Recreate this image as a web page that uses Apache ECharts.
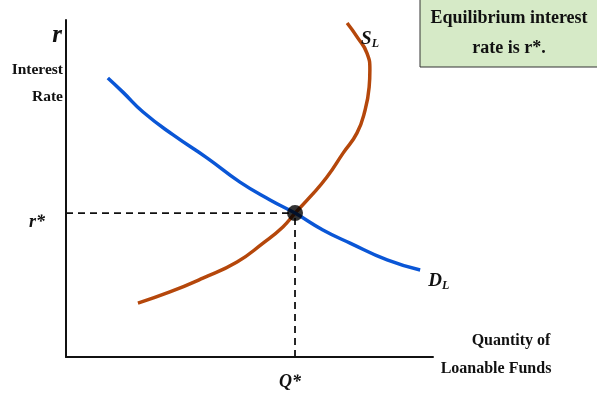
<!DOCTYPE html>
<html>
<head>
<meta charset="utf-8">
<script src="https://cdn.jsdelivr.net/npm/echarts@6/dist/echarts.min.js"></script>
<style>html,body{margin:0;padding:0;background:#fff}#c{width:597px;height:397px}</style>
</head>
<body>
<div id="c"></div>
<script>
// Demand for loanable funds (quantity, rate)
var demandQ = [11.4, 15.5, 21.0, 29.2, 38.4, 47.4, 55.6, 62.4, 70.0, 77.4, 87.5, 96.5];
var demandR = [82.8, 78.6, 72.7, 65.9, 59.1, 51.9, 46.6, 42.7, 37.7, 33.8, 28.8, 25.8];
// Supply of loanable funds (quantity, rate)
var supplyQ = [19.6, 28.3, 37.3, 46.6, 53.7, 59.1, 62.4, 66.5, 71.1, 75.5, 79.3, 81.5, 82.6, 82.8, 82.0, 79.3, 76.6];
var supplyR = [16.0, 19.3, 23.4, 28.2, 33.8, 38.6, 42.7, 47.5, 53.4, 60.5, 66.5, 73.3, 80.1, 85.2, 90.2, 95.0, 99.1];
// Equilibrium
var eqQ = 62.4;
var eqR = 42.7;
var xTickLabel = 'Q*';
var yTickLabel = 'r*';

var serif = "'Liberation Serif', 'Times New Roman', serif";
function pairs(a, b) { return a.map(function (v, i) { return [v, b[i]]; }); }
function txt(extra) {
  var s = { fontFamily: serif, fontWeight: 'bold', fill: '#111' };
  for (var k in extra) s[k] = extra[k];
  return s;
}

var chart = echarts.init(document.getElementById('c'), null, { renderer: 'canvas' });
var option = {
  animation: false,
  grid: { left: 66, right: 164, top: 20, bottom: 40 },
  xAxis: {
    type: 'value', min: 0, max: 100,
    axisLine: { show: true, lineStyle: { color: '#111', width: 2 } },
    axisTick: { show: false },
    splitLine: { show: false },
    axisLabel: {
      customValues: [eqQ],
      formatter: function () { return xTickLabel; },
      margin: 16, padding: [0, 10, 0, 0],
      fontFamily: serif, fontSize: 18, fontWeight: 'bold', fontStyle: 'italic', color: '#111'
    }
  },
  yAxis: {
    type: 'value', min: 0, max: 100,
    axisLine: { show: true, lineStyle: { color: '#111', width: 2 } },
    axisTick: { show: false },
    splitLine: { show: false },
    axisLabel: {
      customValues: [eqR],
      formatter: function () { return yTickLabel; },
      margin: 21, verticalAlign: 'top',
      fontFamily: serif, fontSize: 18, fontWeight: 'bold', fontStyle: 'italic', color: '#111'
    }
  },
  series: [
    {
      type: 'line', data: [[0, eqR], [eqQ, eqR]], symbol: 'none',
      lineStyle: { color: '#111', width: 1.8, type: [7, 5] }, z: 1
    },
    {
      type: 'line', data: [[eqQ, 0], [eqQ, eqR]], symbol: 'none',
      lineStyle: { color: '#111', width: 1.8, type: [7, 5] }, z: 1
    },
    {
      type: 'line', data: pairs(demandQ, demandR), symbol: 'none', smooth: 0.5,
      lineStyle: { color: '#0a56d6', width: 3.5 }, z: 3,
      endLabel: {
        show: true, offset: [0, 11],
        formatter: '{m|D}{s|L}',
        rich: {
          m: { fontFamily: serif, fontSize: 19, fontWeight: 'bold', fontStyle: 'italic', color: '#111' },
          s: { fontFamily: serif, fontSize: 12, fontWeight: 'bold', fontStyle: 'italic', color: '#111', padding: [9, 0, 0, 0] }
        }
      }
    },
    {
      type: 'line', data: pairs(supplyQ, supplyR), symbol: 'none', smooth: 0.5,
      lineStyle: { color: '#b5470b', width: 3.5 }, z: 2,
      endLabel: {
        show: true, offset: [6, 16],
        formatter: '{m|S}{s|L}',
        rich: {
          m: { fontFamily: serif, fontSize: 19, fontWeight: 'bold', fontStyle: 'italic', color: '#111' },
          s: { fontFamily: serif, fontSize: 12, fontWeight: 'bold', fontStyle: 'italic', color: '#111', padding: [9, 0, 0, 0] }
        }
      }
    },
    {
      type: 'scatter', data: [[eqQ, eqR]], symbolSize: 16,
      itemStyle: { color: '#000' }, z: 5
    }
  ],
  graphic: [
    { type: 'text', x: 57, y: 36, style: txt({ text: 'r', fontSize: 25, fontStyle: 'italic', align: 'center', verticalAlign: 'middle' }) },
    { type: 'text', x: 63, y: 70, style: txt({ text: 'Interest', fontSize: 15.5, align: 'right', verticalAlign: 'middle' }) },
    { type: 'text', x: 63, y: 97, style: txt({ text: 'Rate', fontSize: 15.5, align: 'right', verticalAlign: 'middle' }) },
    { type: 'text', x: 511, y: 341, style: txt({ text: 'Quantity of', fontSize: 16, align: 'center', verticalAlign: 'middle' }) },
    { type: 'text', x: 496, y: 369, style: txt({ text: 'Loanable Funds', fontSize: 16, align: 'center', verticalAlign: 'middle' }) },
    { type: 'rect', shape: { x: 420, y: -2, width: 180, height: 69 }, style: { fill: '#d6eac7', stroke: '#333', lineWidth: 1 } },
    { type: 'text', x: 509, y: 18, style: txt({ text: 'Equilibrium interest', fontSize: 18, align: 'center', verticalAlign: 'middle' }) },
    { type: 'text', x: 509, y: 48, style: txt({ text: 'rate is r*.', fontSize: 18, align: 'center', verticalAlign: 'middle' }) }
  ]
};
chart.setOption(option);
</script>
</body>
</html>
